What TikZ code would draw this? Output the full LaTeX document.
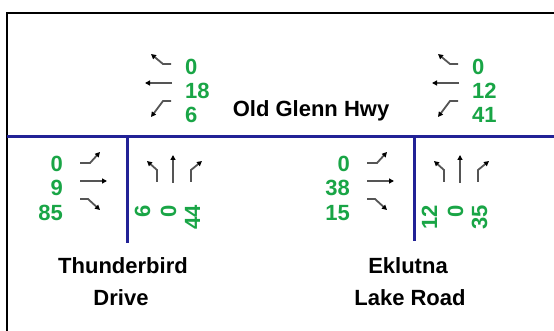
\documentclass[tikz,border=0pt]{standalone}
\usepackage{fontspec}
\setmainfont{Liberation Sans}
\usetikzlibrary{arrows.meta}
\definecolor{roadblue}{RGB}{34,34,150}
\definecolor{volgreen}{RGB}{25,165,70}
\definecolor{movegray}{RGB}{85,85,85}
\tikzset{
  road/.style={roadblue, line width=3pt},
  frameline/.style={black, line width=2pt},
  move/.style={movegray, line width=1.8pt,
    -{Triangle[length=5pt,width=5pt,color=black]}},
  vol/.style={volgreen, font=\fontsize{22}{22}\selectfont\bfseries, inner sep=0pt},
  street/.style={black, font=\fontsize{22}{22}\selectfont\bfseries, inner sep=0pt, anchor=base},
}
\begin{document}
\begin{tikzpicture}[x=1pt,y=-1pt]
\useasboundingbox (0,0) rectangle (554,331);
% frame and roads
\draw[frameline] (7,331) -- (7,13) -- (554,13);
\draw[road] (7,137) -- (554,137);
\draw[road] (127,137) -- (127,243);
\draw[road] (414,137) -- (414,241);

% street names
\node[street] (oldglenn) at (311,117) {Old Glenn Hwy};
\node[street] (thunder1) at (123,273) {Thunderbird};
\node[street] (thunder2) at (121,305) {Drive};
\node[street] (eklutna1) at (408,273) {Eklutna};
\node[street] (eklutna2) at (410,305) {Lake Road};

% Thunderbird Drive intersection
\draw[move] (171,64) -- (163,64) -- (151,54);
\draw[move] (172,83) -- (145,83);
\draw[move] (171,101) -- (163,101) -- (151,117);
\node[vol,anchor=base west] (tdWR) at (185,75) {0};
\node[vol,anchor=base west] (tdWT) at (185,99) {18};
\node[vol,anchor=base west] (tdWL) at (185,123) {6};

\draw[move] (80,163) -- (90,163) -- (100,152);
\draw[move] (80,181) -- (107,181);
\draw[move] (80,199) -- (88,199) -- (100,210);
\node[vol,anchor=base east] (tdEL) at (63,172) {0};
\node[vol,anchor=base east] (tdET) at (63,196) {9};
\node[vol,anchor=base east] (tdER) at (63,220) {85};

\draw[move] (157,182) -- (157,170) -- (147,161);
\draw[move] (173,183) -- (173,155);
\draw[move] (191,182) -- (191,170) -- (202,161);
\node[vol,rotate=90,anchor=base east] (tdNL) at (150,205) {6};
\node[vol,rotate=90,anchor=base east] (tdNT) at (176,205) {0};
\node[vol,rotate=90,anchor=base east] (tdNR) at (200,205) {44};

% Eklutna Lake Road intersection
\begin{scope}[xshift=287pt]
\draw[move] (171,64) -- (163,64) -- (151,54);
\draw[move] (172,83) -- (145,83);
\draw[move] (171,101) -- (163,101) -- (151,117);
\node[vol,anchor=base west] (ekWR) at (185,75) {0};
\node[vol,anchor=base west] (ekWT) at (185,99) {12};
\node[vol,anchor=base west] (ekWL) at (185,123) {41};

\draw[move] (80,163) -- (90,163) -- (100,152);
\draw[move] (80,181) -- (107,181);
\draw[move] (80,199) -- (88,199) -- (100,210);
\node[vol,anchor=base east] (ekEL) at (63,172) {0};
\node[vol,anchor=base east] (ekET) at (63,196) {38};
\node[vol,anchor=base east] (ekER) at (63,220) {15};

\draw[move] (157,182) -- (157,170) -- (147,161);
\draw[move] (173,183) -- (173,155);
\draw[move] (191,182) -- (191,170) -- (202,161);
\node[vol,rotate=90,anchor=base east] (ekNL) at (150,205) {12};
\node[vol,rotate=90,anchor=base east] (ekNT) at (176,205) {0};
\node[vol,rotate=90,anchor=base east] (ekNR) at (200,205) {35};
\end{scope}
\end{tikzpicture}
\end{document}
